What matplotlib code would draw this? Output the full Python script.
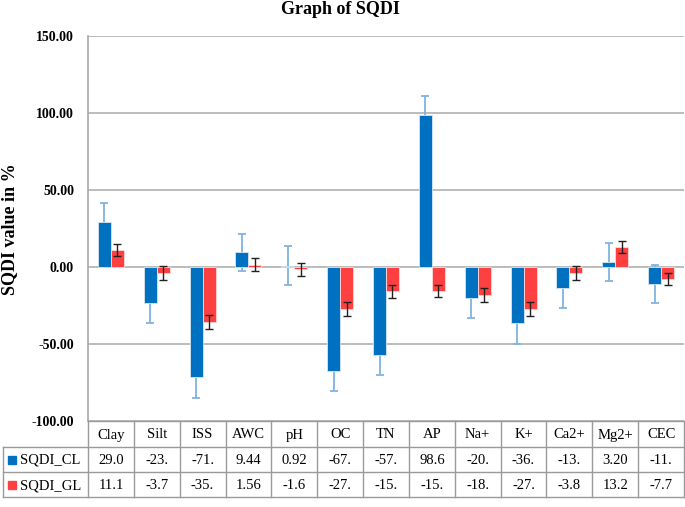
import matplotlib
matplotlib.use("Agg")
import matplotlib.pyplot as plt
import numpy as np

categories = ["Clay", "Silt", "ISS", "AWC", "pH", "OC", "TN", "AP", "Na+", "K+", "Ca2+", "Mg2+", "CEC"]
sqdi_cl = [29.0, -23.3, -71.4, 9.44, 0.92, -67.6, -57.4, 98.6, -20.4, -36.2, -13.8, 3.20, -11.0]
sqdi_gl = [11.1, -3.7, -35.6, 1.56, -1.6, -27.5, -15.7, -15.6, -18.3, -27.4, -3.8, 13.2, -7.7]
err_cl = [12.5, 13.0, 13.5, 12.0, 12.5, 13.0, 12.5, 12.5, 13.0, 13.5, 12.5, 12.5, 12.5]
err_gl = [4.0, 4.5, 4.5, 4.0, 4.2, 4.5, 4.2, 4.2, 4.5, 4.5, 4.5, 3.8, 4.0]
cl_text = ["29.0", "-23.", "-71.", "9.44", "0.92", "-67.", "-57.", "98.6", "-20.", "-36.", "-13.", "3.20", "-11."]
gl_text = ["11.1", "-3.7", "-35.", "1.56", "-1.6", "-27.", "-15.", "-15.", "-18.", "-27.", "-3.8", "13.2", "-7.7"]
series_names = ["SQDI_CL", "SQDI_GL"]
yticks = [-100, -50, 0, 50, 100, 150]

C_BLUE = "#0070C0"
C_RED = "#FF4040"
C_ERR_CL = "#7FB3E0"
SERIF = ["Liberation Serif", "DejaVu Serif"]

W, H = 685, 507
fig = plt.figure(figsize=(W / 100, H / 100), dpi=100)

ax_l, ax_r, ax_t, ax_b = 88, 684, 36, 421
ax = fig.add_axes([ax_l / W, 1 - ax_b / H, (ax_r - ax_l) / W, (ax_b - ax_t) / H])
n = len(categories)
x = np.arange(n)
bw = 0.283

ax.set_xlim(-0.5, n - 0.5)
ax.set_ylim(-100, 150)
for yv in yticks:
    ax.axhline(yv, color="#B0B0B0", lw=1.2, zorder=0)

ax.errorbar(x - bw / 2, sqdi_cl, yerr=err_cl, fmt="none", ecolor=C_ERR_CL,
            elinewidth=1.3, capsize=3, capthick=1.3, zorder=1)
ax.bar(x - bw / 2, sqdi_cl, width=bw, color=C_BLUE, edgecolor="#D8E6F3", linewidth=0.6, zorder=2)
ax.bar(x + bw / 2, sqdi_gl, width=bw, color=C_RED, edgecolor="#FFD8D8", linewidth=0.6, zorder=2)
ax.errorbar(x + bw / 2, sqdi_gl, yerr=err_gl, fmt="none", ecolor="#202020",
            elinewidth=1.0, capsize=3, capthick=1.0, zorder=3)

ax.set_yticks(yticks)
ax.set_yticklabels([f"{v:.2f}" for v in yticks], fontfamily=SERIF, fontweight="bold", fontsize=10)
ax.tick_params(axis="y", length=0, pad=10)
ax.set_xticks([])
for s in ["top", "right", "bottom"]:
    ax.spines[s].set_visible(False)
ax.spines["left"].set_color("#A8A8A8")
ax.spines["left"].set_linewidth(1.2)

fig.text(340 / W, 1 - 10 / H, "Graph of SQDI", ha="center", va="center",
         fontfamily=SERIF, fontweight="bold", fontsize=13)
fig.text(10 / W, 1 - 229 / H, "SQDI value in %", ha="center", va="center", rotation=90,
         fontfamily=SERIF, fontweight="bold", fontsize=13)

# Data table below the axes
tax = fig.add_axes([0, 0, 1, 1])
tax.set_xlim(0, W)
tax.set_ylim(H, 0)
tax.axis("off")
lc = "#9A9A9A"
y0, y1, y2, y3 = 421, 447, 472, 497
left = 3
colw = (ax_r - ax_l) / n
tax.plot([ax_l, ax_r], [y0, y0], color=lc, lw=1)
tax.plot([left, ax_r], [y1, y1], color=lc, lw=1)
tax.plot([left, ax_r], [y2, y2], color=lc, lw=1)
tax.plot([left, ax_r], [y3, y3], color=lc, lw=1)
tax.plot([left, left], [y1, y3], color=lc, lw=1)
for i in range(n + 1):
    xx = ax_l + i * colw
    tax.plot([xx, xx], [y0, y3], color=lc, lw=1)
for i, cat in enumerate(categories):
    cx = ax_l + (i + 0.5) * colw
    tax.text(cx, (y0 + y1) / 2 + 1, cat, ha="center", va="center", fontfamily=SERIF, fontsize=10.5)
    tax.text(cx, (y1 + y2) / 2 + 1, cl_text[i], ha="center", va="center", fontfamily=SERIF, fontsize=10.5)
    tax.text(cx, (y2 + y3) / 2 + 1, gl_text[i], ha="center", va="center", fontfamily=SERIF, fontsize=10.5)
for (ya, yb), name, col in [((y1, y2), series_names[0], C_BLUE), ((y2, y3), series_names[1], C_RED)]:
    ym = (ya + yb) / 2
    tax.add_patch(plt.Rectangle((8, ym - 4), 8, 8, color=col))
    tax.text(20, ym + 1, name, ha="left", va="center", fontfamily=SERIF, fontsize=10.5)

fig.savefig("out.png", dpi=100)
